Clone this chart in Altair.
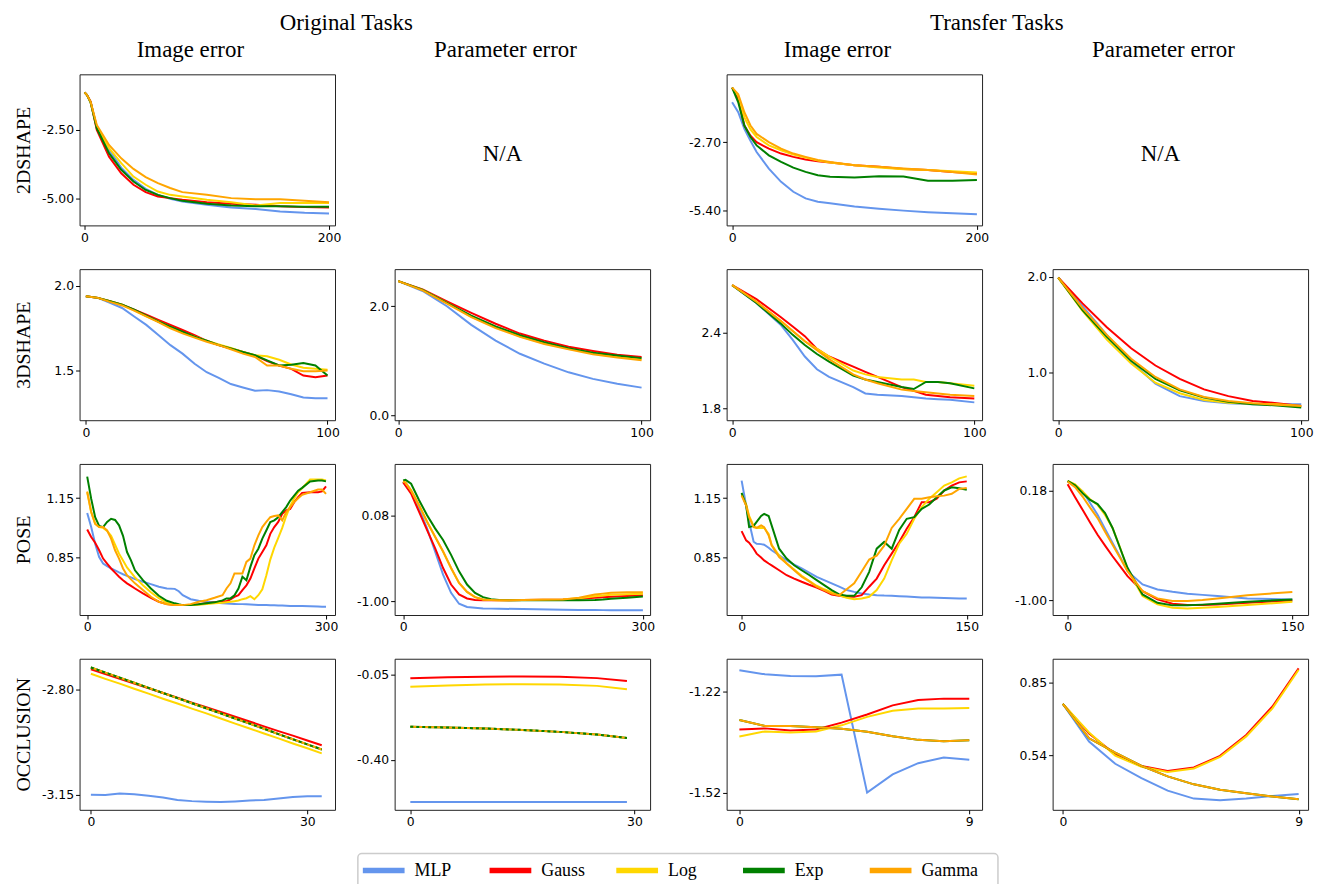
import altair as alt
import pandas as pd

MODELS = ["MLP", "Gauss", "Log", "Exp", "Gamma"]
COLORS = ["#6495ED", "#FF0000", "#FFD700", "#008000", "#FFA500"]
ROW_LABELS = ["2DSHAPE", "3DSHAPE", "POSE", "OCCLUSION"]
COL_TITLES = ["Image error", "Parameter error", "Image error", "Parameter error"]
GROUP_TITLES = ["Original Tasks", "Transfer Tasks"]

# ---------- 2Dshape, image error, original ----------
A_X = [0, 2, 5, 10, 20, 30, 40, 50, 60, 70, 80, 100, 120, 140, 160, 180, 200]
A_MLP = [-1.12, -1.22, -1.50, -2.38, -3.23, -3.88, -4.33, -4.66, -4.88, -5.02, -5.12, -5.24, -5.34, -5.40, -5.49, -5.54, -5.56]
A_GAUSS = [-1.12, -1.22, -1.46, -2.50, -3.48, -4.09, -4.51, -4.78, -4.94, -5.00, -5.06, -5.15, -5.21, -5.24, -5.30, -5.33, -5.34]
A_LOG = [-1.12, -1.22, -1.50, -2.38, -3.17, -3.72, -4.21, -4.51, -4.76, -4.88, -4.94, -5.06, -5.15, -5.27, -5.18, -5.18, -5.18]
A_EXP = [-1.12, -1.22, -1.50, -2.44, -3.35, -3.96, -4.39, -4.70, -4.88, -5.00, -5.10, -5.21, -5.27, -5.30, -5.30, -5.32, -5.32]
A_GAMMA = [-1.12, -1.22, -1.48, -2.32, -3.05, -3.54, -3.93, -4.23, -4.45, -4.63, -4.78, -4.88, -5.00, -5.04, -5.04, -5.10, -5.15]

# ---------- 2Dshape, image error, transfer ----------
B_X = [0, 5, 10, 15, 20, 30, 40, 50, 60, 70, 80, 100, 120, 140, 160, 180, 200]
B_MLP = [-1.14, -1.53, -2.18, -2.65, -3.09, -3.74, -4.26, -4.65, -4.91, -5.04, -5.10, -5.23, -5.32, -5.39, -5.45, -5.49, -5.53]
B_GAUSS = [-0.56, -1.01, -2.05, -2.45, -2.70, -2.96, -3.15, -3.28, -3.38, -3.45, -3.50, -3.61, -3.67, -3.76, -3.80, -3.87, -3.93]
B_LOG = [-0.56, -0.88, -1.73, -2.20, -2.50, -2.83, -3.02, -3.19, -3.31, -3.42, -3.50, -3.61, -3.70, -3.77, -3.80, -3.84, -3.89]
B_EXP = [-0.56, -1.14, -2.05, -2.50, -2.83, -3.22, -3.48, -3.70, -3.87, -4.00, -4.06, -4.09, -4.04, -4.05, -4.22, -4.22, -4.19]
B_GAMMA = [-0.56, -0.82, -1.53, -2.05, -2.38, -2.70, -2.96, -3.15, -3.28, -3.40, -3.48, -3.61, -3.67, -3.74, -3.80, -3.87, -3.97]

# ---------- 3Dshape, image error, original ----------
C_X = [0, 5, 10, 15, 20, 25, 30, 35, 40, 45, 50, 55, 60, 65, 70, 75, 80, 85, 90, 95, 100]
C_MLP = [1.94, 1.93, 1.90, 1.87, 1.82, 1.77, 1.71, 1.65, 1.60, 1.54, 1.49, 1.456, 1.42, 1.40, 1.38, 1.384, 1.376, 1.36, 1.34, 1.336, 1.336]
C_GAUSS = [1.94, 1.93, 1.91, 1.89, 1.86, 1.83, 1.80, 1.77, 1.74, 1.71, 1.676, 1.65, 1.63, 1.61, 1.59, 1.556, 1.53, 1.51, 1.47, 1.46, 1.47]
C_LOG = [1.94, 1.93, 1.91, 1.89, 1.856, 1.82, 1.79, 1.755, 1.724, 1.70, 1.676, 1.655, 1.634, 1.61, 1.59, 1.584, 1.564, 1.536, 1.516, 1.51, 1.504]
C_EXP = [1.94, 1.93, 1.91, 1.89, 1.86, 1.825, 1.79, 1.76, 1.73, 1.70, 1.676, 1.65, 1.63, 1.61, 1.59, 1.56, 1.53, 1.534, 1.544, 1.53, 1.47]
C_GAMMA = [1.94, 1.93, 1.906, 1.885, 1.854, 1.82, 1.786, 1.75, 1.72, 1.695, 1.67, 1.65, 1.626, 1.60, 1.58, 1.53, 1.53, 1.51, 1.496, 1.496, 1.50]

# ---------- 3Dshape, parameter error, original ----------
D_X = [0, 10, 20, 30, 40, 50, 60, 70, 80, 90, 100]
D_MLP = [2.46, 2.28, 2.00, 1.66, 1.37, 1.13, 0.95, 0.79, 0.67, 0.58, 0.51]
D_GAUSS = [2.46, 2.31, 2.09, 1.88, 1.68, 1.50, 1.37, 1.26, 1.18, 1.11, 1.07]
D_LOG = [2.46, 2.30, 2.06, 1.81, 1.62, 1.45, 1.32, 1.22, 1.14, 1.08, 1.03]
D_EXP = [2.46, 2.30, 2.06, 1.83, 1.63, 1.47, 1.34, 1.23, 1.15, 1.10, 1.05]
D_GAMMA = [2.46, 2.29, 2.05, 1.80, 1.60, 1.44, 1.31, 1.21, 1.12, 1.06, 1.01]

# ---------- 3Dshape, image error, transfer ----------
E_X = [0, 10, 20, 25, 30, 35, 40, 50, 55, 60, 70, 75, 80, 85, 90, 100]
E_MLP = [2.77, 2.63, 2.46, 2.34, 2.21, 2.11, 2.05, 1.97, 1.92, 1.91, 1.90, 1.89, 1.88, 1.875, 1.87, 1.85]
E_GAUSS = [2.77, 2.66, 2.52, 2.445, 2.37, 2.27, 2.21, 2.13, 2.09, 2.05, 1.97, 1.94, 1.91, 1.90, 1.89, 1.88]
E_LOG = [2.77, 2.64, 2.49, 2.41, 2.33, 2.27, 2.21, 2.10, 2.07, 2.05, 2.03, 2.03, 2.01, 2.01, 2.00, 1.98]
E_EXP = [2.77, 2.63, 2.47, 2.38, 2.30, 2.23, 2.17, 2.06, 2.03, 2.01, 1.97, 1.955, 2.01, 2.01, 2.00, 1.96]
E_GAMMA = [2.77, 2.64, 2.49, 2.41, 2.33, 2.26, 2.19, 2.07, 2.03, 2.00, 1.95, 1.94, 1.93, 1.92, 1.91, 1.90]

# ---------- 3Dshape, parameter error, transfer ----------
F_X = [0, 10, 20, 30, 40, 50, 60, 70, 80, 90, 100]
F_MLP = [1.99, 1.69, 1.39, 1.11, 0.88, 0.75, 0.70, 0.675, 0.665, 0.664, 0.664]
F_GAUSS = [1.99, 1.72, 1.47, 1.25, 1.07, 0.93, 0.82, 0.75, 0.70, 0.675, 0.647]
F_LOG = [1.99, 1.64, 1.34, 1.09, 0.89, 0.78, 0.71, 0.68, 0.67, 0.664, 0.647]
F_EXP = [1.99, 1.65, 1.37, 1.12, 0.93, 0.81, 0.735, 0.69, 0.664, 0.653, 0.63]
F_GAMMA = [1.99, 1.67, 1.39, 1.14, 0.95, 0.82, 0.74, 0.70, 0.675, 0.66, 0.647]

# ---------- Pose, image error, original ----------
G_X = [0, 5, 10, 15, 20, 25, 30, 35, 40, 45, 50, 55, 60, 70, 80, 90, 100, 110, 115, 120, 130, 140, 150, 160, 170,
       175, 180, 185, 190, 195, 200, 205, 210, 215, 220, 225, 230, 235, 240, 245, 250, 255, 260, 265, 270, 280, 290, 295, 300]
G_MLP = [1.075, 1.004, 0.92, 0.853, 0.82, 0.807, 0.795, 0.785, 0.775, 0.766, 0.758, 0.75, 0.741, 0.728, 0.716, 0.703, 0.694, 0.692, 0.68, 0.66, 0.64, 0.632, 0.627, 0.623, 0.619,
         0.618, 0.617, 0.616, 0.615, 0.615, 0.614, 0.613, 0.612, 0.611, 0.61, 0.61, 0.609, 0.609, 0.608, 0.608, 0.607, 0.606, 0.606, 0.605, 0.605, 0.604, 0.603, 0.602, 0.602]
G_GAUSS = [0.992, 0.954, 0.925, 0.887, 0.845, 0.82, 0.795, 0.774, 0.753, 0.736, 0.72, 0.707, 0.694, 0.669, 0.647, 0.627, 0.615, 0.61, 0.61, 0.61, 0.612, 0.615, 0.62, 0.624, 0.629,
           0.63, 0.639, 0.652, 0.66, 0.686, 0.71, 0.744, 0.795, 0.845, 0.878, 0.912, 0.97, 1.004, 1.03, 1.071, 1.088, 1.096, 1.13, 1.155, 1.177, 1.18, 1.18, 1.184, 1.21]
G_LOG = [1.18, 1.08, 1.02, 1.004, 1.0, 0.985, 0.96, 0.915, 0.87, 0.835, 0.8, 0.775, 0.75, 0.71, 0.675, 0.645, 0.622, 0.612, 0.61, 0.61, 0.61, 0.612, 0.616, 0.62, 0.622,
         0.625, 0.627, 0.63, 0.633, 0.64, 0.645, 0.655, 0.64, 0.66, 0.69, 0.76, 0.84, 0.9, 0.95, 1.0, 1.06, 1.11, 1.15, 1.18, 1.2, 1.244, 1.244, 1.244, 1.24]
G_EXP = [1.259, 1.147, 1.054, 1.01, 1.004, 1.03, 1.046, 1.04, 1.013, 0.96, 0.878, 0.836, 0.786, 0.736, 0.694, 0.657, 0.632, 0.619, 0.614, 0.61, 0.61, 0.614, 0.619, 0.624, 0.634,
         0.644, 0.644, 0.66, 0.694, 0.753, 0.736, 0.803, 0.862, 0.895, 0.946, 0.987, 1.03, 1.038, 1.054, 1.08, 1.105, 1.138, 1.163, 1.188, 1.202, 1.234, 1.239, 1.239, 1.235]
G_GAMMA = [1.184, 1.08, 1.021, 1.004, 1.004, 0.987, 0.946, 0.887, 0.845, 0.795, 0.761, 0.74, 0.72, 0.686, 0.652, 0.627, 0.614, 0.61, 0.61, 0.61, 0.615, 0.627, 0.635, 0.647, 0.66,
           0.694, 0.72, 0.77, 0.77, 0.77, 0.828, 0.845, 0.912, 0.962, 1.004, 1.03, 1.054, 1.06, 1.063, 1.038, 1.08, 1.105, 1.13, 1.15, 1.167, 1.18, 1.194, 1.194, 1.172]

# ---------- Pose, parameter error, original ----------
H_X = [0, 3, 10, 20, 30, 40, 50, 60, 70, 80, 90, 100, 110, 120, 150, 200, 220, 240, 250, 260, 280, 300]
H_MLP = [0.507, 0.47, 0.381, 0.172, -0.079, -0.372, -0.665, -0.895, -1.033, -1.075, -1.084, -1.092, -1.095, -1.097, -1.1, -1.109, -1.111, -1.113, -1.114, -1.115, -1.116, -1.117]
H_GAUSS = [0.507, 0.46, 0.36, 0.13, -0.10, -0.33, -0.581, -0.79, -0.916, -0.966, -0.987, -0.99, -0.99, -0.99, -0.987, -0.979, -0.97, -0.958, -0.95, -0.945, -0.935, -0.925]
H_LOG = [0.515, 0.5, 0.40, 0.21, 0.005, -0.184, -0.372, -0.581, -0.77, -0.883, -0.95, -0.979, -0.985, -0.99, -0.987, -0.979, -0.965, -0.937, -0.93, -0.92, -0.912, -0.908]
H_EXP = [0.528, 0.536, 0.486, 0.277, 0.088, -0.079, -0.226, -0.414, -0.623, -0.79, -0.895, -0.95, -0.975, -0.987, -0.99, -0.99, -0.99, -0.985, -0.979, -0.97, -0.958, -0.941]
H_GAMMA = [0.515, 0.5, 0.402, 0.214, 0.005, -0.184, -0.372, -0.581, -0.77, -0.883, -0.95, -0.979, -0.985, -0.99, -0.985, -0.979, -0.958, -0.916, -0.905, -0.895, -0.887, -0.887]

# ---------- Pose, image error, transfer ----------
I_X = [0, 3, 5, 8, 10, 13, 15, 18, 20, 25, 30, 35, 40, 45, 50, 55, 60, 65, 70, 75, 80, 85, 90, 95, 100,
       105, 110, 115, 120, 125, 130, 135, 140, 145, 150]
I_MLP = [1.239, 1.113, 1.03, 0.93, 0.92, 0.918, 0.915, 0.9, 0.887, 0.862, 0.836, 0.815, 0.795, 0.774, 0.753, 0.736, 0.72, 0.703, 0.686, 0.677, 0.669, 0.664, 0.66, 0.658, 0.657,
         0.655, 0.653, 0.651, 0.649, 0.648, 0.647, 0.646, 0.645, 0.644, 0.644]
I_GAUSS = [0.984, 0.937, 0.925, 0.895, 0.87, 0.85, 0.836, 0.82, 0.811, 0.786, 0.761, 0.744, 0.728, 0.713, 0.699, 0.682, 0.664, 0.657, 0.652, 0.652, 0.66, 0.703, 0.744, 0.811, 0.87,
           0.929, 0.996, 1.054, 1.13, 1.13, 1.147, 1.189, 1.214, 1.23, 1.235]
I_LOG = [1.17, 1.12, 1.06, 1.01, 1.0, 1.0, 1.0, 0.97, 0.915, 0.86, 0.82, 0.79, 0.758, 0.733, 0.708, 0.69, 0.675, 0.66, 0.647, 0.64, 0.643, 0.652, 0.686, 0.744, 0.836,
         0.92, 0.97, 1.046, 1.105, 1.147, 1.18, 1.214, 1.23, 1.25, 1.26]
I_EXP = [1.177, 1.113, 1.004, 1.01, 1.03, 1.06, 1.071, 1.06, 1.013, 0.895, 0.845, 0.811, 0.786, 0.762, 0.736, 0.711, 0.686, 0.664, 0.657, 0.657, 0.7, 0.778, 0.895, 0.929, 0.895,
         0.99, 1.046, 1.054, 1.096, 1.118, 1.155, 1.189, 1.205, 1.2, 1.193]
I_GAMMA = [1.163, 1.113, 1.054, 1.004, 1.0, 1.013, 1.004, 0.962, 0.912, 0.853, 0.82, 0.786, 0.753, 0.73, 0.703, 0.686, 0.669, 0.66, 0.69, 0.72, 0.78, 0.84, 0.86, 0.91, 1.0,
           1.046, 1.096, 1.147, 1.147, 1.155, 1.16, 1.163, 1.172, 1.197, 1.202]

# ---------- Pose, parameter error, transfer ----------
J_X = [0, 5, 10, 15, 20, 25, 30, 35, 40, 50, 60, 70, 80, 90, 100, 120, 150]
J_MLP = [0.28, 0.24, 0.173, 0.05, -0.077, -0.23, -0.381, -0.53, -0.685, -0.828, -0.882, -0.907, -0.928, -0.94, -0.953, -0.978, -0.989]
J_GAUSS = [0.25, 0.11, -0.024, -0.16, -0.292, -0.41, -0.524, -0.63, -0.739, -0.90, -0.989, -1.036, -1.05, -1.05, -1.043, -1.025, -1.0]
J_LOG = [0.287, 0.25, 0.173, 0.09, 0.03, -0.08, -0.22, -0.43, -0.667, -0.953, -1.043, -1.079, -1.086, -1.08, -1.071, -1.05, -1.014]
J_EXP = [0.287, 0.24, 0.155, 0.083, 0.037, -0.06, -0.22, -0.435, -0.649, -0.935, -1.025, -1.053, -1.053, -1.045, -1.036, -1.014, -0.989]
J_GAMMA = [0.28, 0.22, 0.119, 0.0, -0.113, -0.26, -0.399, -0.54, -0.685, -0.90, -0.978, -1.007, -1.007, -0.996, -0.978, -0.943, -0.91]

# ---------- Occlusion, image error, original ----------
K_X = [0, 2, 4, 6, 8, 10, 12, 14, 16, 18, 20, 22, 24, 26, 28, 30, 32]
K_MLP = [-3.150, -3.151, -3.146, -3.148, -3.153, -3.159, -3.167, -3.171, -3.173, -3.174, -3.172, -3.169, -3.167, -3.162, -3.157, -3.155, -3.155]
K_GAUSS = [-2.732, -2.748, -2.764, -2.780, -2.795, -2.811, -2.827, -2.843, -2.858, -2.874, -2.890, -2.906, -2.922, -2.938, -2.953, -2.969, -2.985]
K_LOG = [-2.747, -2.764, -2.780, -2.797, -2.813, -2.830, -2.846, -2.863, -2.879, -2.896, -2.913, -2.929, -2.946, -2.962, -2.979, -2.995, -3.012]
K_EXP = [-2.726, -2.743, -2.760, -2.777, -2.794, -2.811, -2.828, -2.845, -2.862, -2.879, -2.896, -2.913, -2.930, -2.948, -2.965, -2.982, -2.999]
K_GAMMA = [-2.726, -2.743, -2.760, -2.777, -2.794, -2.811, -2.828, -2.845, -2.862, -2.879, -2.896, -2.913, -2.930, -2.948, -2.965, -2.982, -2.999]

# ---------- Occlusion, parameter error, original ----------
L_X = [0, 5, 10, 15, 20, 25, 29]
L_MLP = [-0.575, -0.575, -0.575, -0.575, -0.575, -0.575, -0.575]
L_GAUSS = [-0.064, -0.059, -0.057, -0.056, -0.057, -0.063, -0.075]
L_LOG = [-0.099, -0.093, -0.089, -0.088, -0.089, -0.095, -0.109]
L_EXP = [-0.264, -0.267, -0.271, -0.277, -0.285, -0.296, -0.310]
L_GAMMA = [-0.264, -0.267, -0.271, -0.277, -0.285, -0.296, -0.310]

# ---------- Occlusion, image error, transfer ----------
M_X = [0, 1, 2, 3, 4, 5, 6, 7, 8, 9]
M_MLP = [-1.158, -1.170, -1.175, -1.176, -1.171, -1.520, -1.466, -1.433, -1.416, -1.423]
M_GAUSS = [-1.333, -1.330, -1.336, -1.333, -1.313, -1.289, -1.262, -1.246, -1.242, -1.242]
M_LOG = [-1.354, -1.339, -1.342, -1.339, -1.321, -1.296, -1.278, -1.271, -1.271, -1.270]
M_EXP = [-1.305, -1.323, -1.323, -1.327, -1.331, -1.340, -1.353, -1.364, -1.368, -1.365]
M_GAMMA = [-1.305, -1.323, -1.323, -1.327, -1.331, -1.340, -1.353, -1.364, -1.368, -1.365]

# ---------- Occlusion, parameter error, transfer ----------
N_X = [0, 1, 2, 3, 4, 5, 6, 7, 8, 9]
N_MLP = [0.759, 0.598, 0.503, 0.442, 0.388, 0.354, 0.347, 0.354, 0.365, 0.374]
N_GAUSS = [0.759, 0.632, 0.544, 0.494, 0.472, 0.487, 0.537, 0.626, 0.748, 0.911]
N_LOG = [0.759, 0.637, 0.538, 0.490, 0.468, 0.483, 0.532, 0.620, 0.740, 0.905]
N_EXP = [0.759, 0.612, 0.551, 0.494, 0.449, 0.415, 0.392, 0.377, 0.363, 0.351]
N_GAMMA = [0.759, 0.612, 0.551, 0.494, 0.449, 0.415, 0.392, 0.377, 0.363, 0.351]

# ---------------- styling / layout ----------------
W, H = 257, 152
SERIF = "Liberation Serif"
SANS = "DejaVu Sans"

CSCALE = alt.Scale(domain=MODELS, range=COLORS)


def panel(x, series, xdom, ydom, xt, yt, yfmt, row_label="", title="", dash_exp=False):
    ax_kw = dict(grid=False, domain=False, tickColor="black", tickSize=4, tickWidth=1,
                 labelFont=SANS, labelFontSize=12.5, labelColor="black", labelPadding=2)
    xaxis = alt.Axis(values=xt, format="d", title=None, labelFlush=False, **ax_kw)
    if row_label:
        yaxis = alt.Axis(values=yt, format=yfmt, title=row_label, titleX=-56, titleY=H / 2,
                         titleAngle=270, titleAlign="center", titleBaseline="middle",
                         titleFont=SERIF, titleFontSize=20, titleFontWeight="normal",
                         titleColor="black", **ax_kw)
    else:
        yaxis = alt.Axis(values=yt, format=yfmt, title=None, **ax_kw)
    xe = alt.X("x:Q", scale=alt.Scale(domain=xdom, nice=False, zero=False), axis=xaxis)
    ye = alt.Y("y:Q", scale=alt.Scale(domain=ydom, nice=False, zero=False), axis=yaxis)
    layers = []
    order = list(MODELS) + (["Exp"] if dash_exp else [])
    for i, m in enumerate(order):
        df = pd.DataFrame({"x": x, "y": series[m], "model": m})
        dashed = dash_exp and i == len(order) - 1
        mk = alt.Chart(df).mark_line(strokeWidth=2, strokeDash=[3, 3]) if dashed else \
            alt.Chart(df).mark_line(strokeWidth=2)
        layers.append(mk.encode(x=xe, y=ye,
                                color=alt.Color("model:N", scale=CSCALE, legend=None)))
    ch = alt.layer(*layers).properties(width=W, height=H)
    if title:
        ch = ch.properties(title=alt.TitleParams(title, font=SERIF, fontSize=23, fontWeight="normal",
                                                 color="black", frame="group", anchor="middle",
                                                 dx=-17, offset=12))
    return ch


def na_panel(title):
    df = pd.DataFrame({"t": ["N/A"]})
    return alt.Chart(df).mark_text(font=SERIF, fontSize=23, color="black", baseline="middle").encode(
        text="t:N", x=alt.value(W / 2 - 20), y=alt.value(H / 2 + 4)
    ).properties(width=W, height=H, view=alt.ViewBackground(strokeOpacity=0),
                 title=alt.TitleParams(title, font=SERIF, fontSize=23, fontWeight="normal",
                                       color="black", frame="group", anchor="middle",
                                       dx=-17, offset=12))


def S(mlp, gauss, log, exp, gamma):
    return {"MLP": mlp, "Gauss": gauss, "Log": log, "Exp": exp, "Gamma": gamma}


pA = panel(A_X, S(A_MLP, A_GAUSS, A_LOG, A_EXP, A_GAMMA), [-4.1, 204.9], [-6.0, -0.46], [0, 200], [-2.5, -5.0], ".2f",
           row_label=ROW_LABELS[0], title=COL_TITLES[0])
pNA1 = na_panel(COL_TITLES[1])
pB = panel(B_X, S(B_MLP, B_GAUSS, B_LOG, B_EXP, B_GAMMA), [-4.5, 204.2], [-5.97, -0.04], [0, 200], [-2.7, -5.4], ".2f",
           title=COL_TITLES[2])
pNA2 = na_panel(COL_TITLES[3])
pC = panel(C_X, S(C_MLP, C_GAUSS, C_LOG, C_EXP, C_GAMMA), [-2.6, 103.1], [1.206, 2.1], [0, 100], [2.0, 1.5], ".1f",
           row_label=ROW_LABELS[1])
pD = panel(D_X, S(D_MLP, D_GAUSS, D_LOG, D_EXP, D_GAMMA), [-1.5, 103.5], [-0.087, 2.68], [0, 100], [2.0, 0.0], ".1f")
pE = panel(E_X, S(E_MLP, E_GAUSS, E_LOG, E_EXP, E_GAMMA), [-2.3, 103.2], [1.71, 2.896], [0, 100], [2.4, 1.8], ".1f")
pF = panel(F_X, S(F_MLP, F_GAUSS, F_LOG, F_EXP, F_GAMMA), [-2.3, 102.8], [0.498, 2.078], [0, 100], [2.0, 1.0], ".1f")
pG = panel(G_X, S(G_MLP, G_GAUSS, G_LOG, G_EXP, G_GAMMA), [-9.6, 311.3], [0.56, 1.323], [0, 300], [1.15, 0.85], ".2f",
           row_label=ROW_LABELS[2])
pH = panel(H_X, S(H_MLP, H_GAUSS, H_LOG, H_EXP, H_GAMMA), [-10.6, 309], [-1.176, 0.737], [0, 300], [0.08, -1.0], ".2f")
pI = panel(I_X, S(I_MLP, I_GAUSS, I_LOG, I_EXP, I_GAMMA), [-10, 160.2], [0.56, 1.323], [0, 150], [1.15, 0.85], ".2f")
pJ = panel(J_X, S(J_MLP, J_GAUSS, J_LOG, J_EXP, J_GAMMA), [-10, 160.5], [-1.157, 0.47], [0, 150], [0.18, -1.0], ".2f")
pK = panel(K_X, S(K_MLP, K_GAUSS, K_LOG, K_EXP, K_GAMMA), [-1.57, 33.84], [-3.2, -2.697], [0, 30], [-2.8, -3.15], ".2f",
           row_label=ROW_LABELS[3], dash_exp=True)
pL = panel(L_X, S(L_MLP, L_GAUSS, L_LOG, L_EXP, L_GAMMA), [-2.1, 32.1], [-0.607, 0.017], [0, 30], [-0.05, -0.4], ".2f",
           dash_exp=True)
pM = panel(M_X, S(M_MLP, M_GAUSS, M_LOG, M_EXP, M_GAMMA), [-0.5, 9.5], [-1.571, -1.124], [0, 9], [-1.22, -1.52], ".2f")
pN = panel(N_X, S(N_MLP, N_GAUSS, N_LOG, N_EXP, N_GAMMA), [-0.39, 9.36], [0.306, 0.952], [0, 9], [0.85, 0.54], ".2f")


def group_title(t, dx):
    return alt.TitleParams(t, font=SERIF, fontSize=23, fontWeight="normal", color="black",
                           anchor="middle", offset=4, dx=dx)


orig = alt.concat(pA, pNA1, pC, pD, pG, pH, pK, pL, columns=2,
                  spacing={"row": 24, "column": 14}, title=group_title(GROUP_TITLES[0], 12))
trans = alt.concat(pB, pNA2, pE, pF, pI, pJ, pM, pN, columns=2,
                   spacing={"row": 24, "column": 24}, title=group_title(GROUP_TITLES[1], -4))

# ---------------- legend (drawn as its own small chart) ----------------
leg_df = pd.DataFrame({"model": MODELS})
leg_x = alt.X("model:N", sort=MODELS, scale=alt.Scale(type="point", range=[26, 536], padding=0), axis=None)
leg_sym = alt.Chart(leg_df).mark_point(shape="stroke", size=1764, strokeWidth=5.5, filled=False, opacity=1).encode(
    x=leg_x, y=alt.value(17), color=alt.Color("model:N", scale=CSCALE, legend=None))
leg_txt = alt.Chart(leg_df).mark_text(align="left", baseline="middle", dx=31, font=SERIF, fontSize=18,
                                      color="black").encode(x=leg_x, y=alt.value(18), text="model:N")
legend_box = alt.layer(leg_sym, leg_txt).properties(
    width=644, height=38,
    view=alt.ViewBackground(stroke="#cccccc", strokeWidth=1.5, cornerRadius=4))
spacer = alt.Chart(pd.DataFrame({"t": [""]})).mark_text().encode(text="t:N").properties(
    width=263, height=38, view=alt.ViewBackground(strokeOpacity=0))
legend_row = alt.hconcat(spacer, legend_box, spacing=10)

chart = alt.vconcat(alt.hconcat(orig, trans, spacing=32), legend_row, spacing=24).properties(
    padding={"left": 5, "top": 1, "right": 5, "bottom": 5}
).configure(
    locale={"number": {"decimal": ".", "thousands": ",", "grouping": [3],
                       "currency": ["$", ""], "minus": "-"}}
).configure_view(stroke="#222222", strokeWidth=1)

chart.save("out.html", embed_options={"renderer": "svg", "actions": False})
